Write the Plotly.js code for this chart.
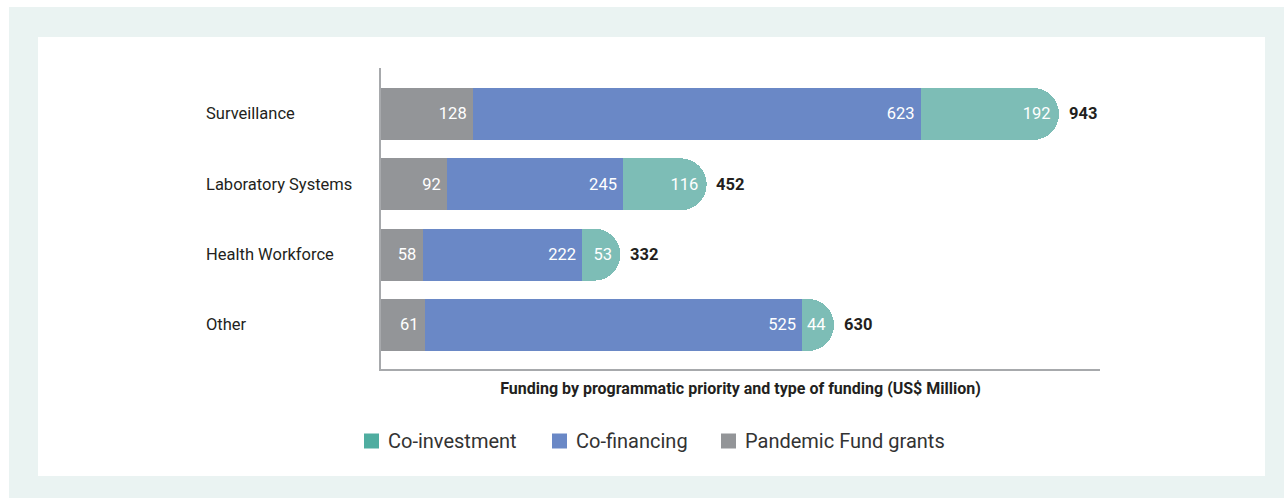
<!DOCTYPE html>
<html>
<head>
<meta charset="utf-8">
<script src="https://cdn.plot.ly/plotly-3.0.1.min.js"></script>
<style>
  html, body { margin: 0; padding: 0; background: #ffffff; }
  #wrap { position: relative; width: 1284px; height: 498px; overflow: hidden; }
  #bg { position: absolute; left: 9px; top: 7px; width: 1275px; height: 491px; background: #eaf3f2; }
  #chart { position: absolute; left: 38px; top: 37px; width: 1227px; height: 439px; }
</style>
</head>
<body>
<div id="wrap">
  <div id="bg"></div>
  <div id="chart"></div>
</div>
<script>
// ---- data ----
var categories = ["Surveillance", "Laboratory Systems", "Health Workforce", "Other"];
var pandemicFundGrants = [128, 92, 58, 61];
var coFinancing = [623, 245, 222, 525];
var coInvestment = [192, 116, 53, 44];
var totals = [943, 452, 332, 630];
var seriesNames = ["Co-investment", "Co-financing", "Pandemic Fund grants"];
var axisTitle = "Funding by programmatic priority and type of funding (US$ Million)";

// ---- styles ----
var font = 'Roboto, "Liberation Sans", sans-serif';
var colGray = '#939598', colBlue = '#6a88c6', colTeal = '#7dbdb6', colTealLegend = '#4fada0';
var legendColors = [colTealLegend, colBlue, colGray];
var textDark = '#231f20';

// plot area in page pixels: x 381..1100, y 68..369
function px2paperX(px) { return (px - 381) / 719; }
function px2paperY(py) { return (369 - py) / 301; }

function segTrace(vals, color) {
  return {
    type: 'bar', orientation: 'h', x: vals, y: categories,
    marker: { color: color, line: { width: 0 } },
    texttemplate: '%{x}\u2009', textposition: 'inside', insidetextanchor: 'end',
    textangle: 0,
    textfont: { family: font, size: 16.5, color: '#ffffff' },
    hoverinfo: 'skip', showlegend: false
  };
}

var data = [
  segTrace(pandemicFundGrants, colGray),
  segTrace(coFinancing, colBlue),
  segTrace(coInvestment, colTeal)
];

var annotations = [];
var shapes = [];
categories.forEach(function (c, i) {
  annotations.push({ xref: 'paper', yref: 'y', x: px2paperX(204), y: c, text: c,
    xanchor: 'left', yanchor: 'middle', showarrow: false,
    font: { family: font, size: 16.5, color: textDark } });
  annotations.push({ xref: 'x', yref: 'y', x: totals[i], y: c, text: String(totals[i]),
    xanchor: 'left', yanchor: 'middle', xshift: 8, showarrow: false,
    font: { family: font, size: 16.5, color: textDark, weight: 'bold' } });
});

// manual legend (swatch + label)
var legendSwatchX = [364, 552, 721];
var legendY = 441;
seriesNames.forEach(function (n, i) {
  shapes.push({ type: 'rect', xref: 'paper', yref: 'paper',
    xsizemode: 'pixel', ysizemode: 'pixel',
    xanchor: px2paperX(legendSwatchX[i]), yanchor: px2paperY(legendY),
    x0: 0, x1: 15, y0: -7.5, y1: 7.5,
    fillcolor: legendColors[i], line: { width: 0 } });
  annotations.push({ xref: 'paper', yref: 'paper',
    x: px2paperX(legendSwatchX[i] + 22), y: px2paperY(legendY), text: n,
    xanchor: 'left', yanchor: 'middle', showarrow: false,
    font: { family: font, size: 20, color: '#333333' } });
});

var layout = {
  width: 1227, height: 439,
  margin: { l: 343, r: 165, t: 31, b: 107, pad: 0 },
  paper_bgcolor: '#ffffff', plot_bgcolor: '#ffffff',
  barmode: 'stack', bargap: 0.26, barcornerradius: 26,
  xaxis: {
    range: [0, 1000], showline: true, linecolor: '#a7a9ac', linewidth: 2,
    showgrid: false, zeroline: false, showticklabels: false, ticks: '', fixedrange: true,
    title: { text: axisTitle, standoff: 13,
             font: { family: font, size: 16, color: textDark, weight: 'bold' } }
  },
  yaxis: {
    type: 'category', categoryorder: 'array', categoryarray: categories,
    range: [3.626, -0.654], showline: true, linecolor: '#a7a9ac', linewidth: 2,
    showgrid: false, zeroline: false, showticklabels: false, ticks: '', fixedrange: true
  },
  showlegend: false,
  shapes: shapes,
  annotations: annotations
};

Plotly.newPlot('chart', data, layout, { staticPlot: true, displayModeBar: false });
</script>
</body>
</html>
